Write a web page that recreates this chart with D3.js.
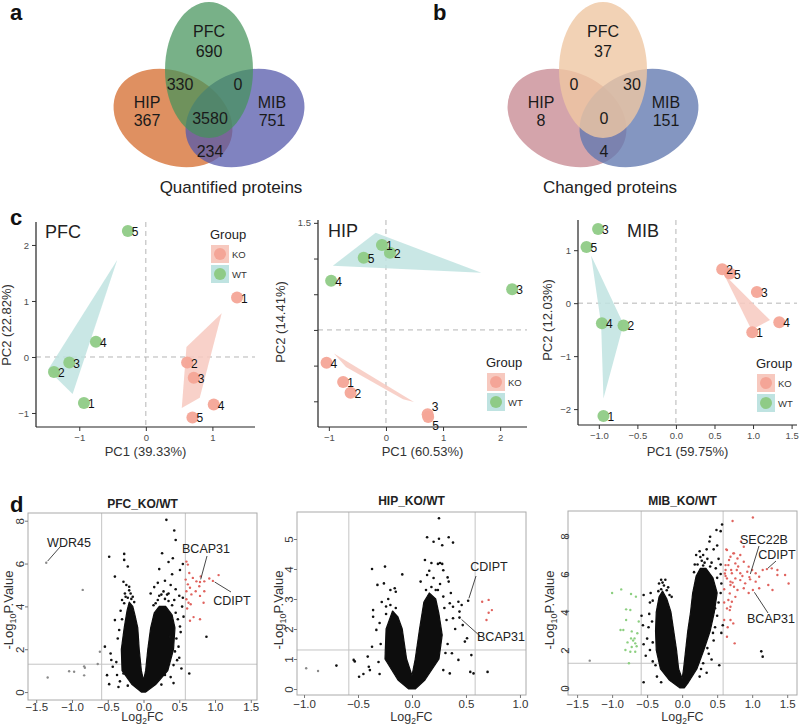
<!DOCTYPE html>
<html><head><meta charset="utf-8">
<script src="https://cdn.jsdelivr.net/npm/d3@7"></script>
<style>body{margin:0;background:#fff} svg{font-family:"Liberation Sans",Arial,sans-serif}</style>
</head><body><svg id="c" width="800" height="727"></svg>
<script>
// ---------------- DATA ----------------
const vennSets = ["PFC", "HIP", "MIB"];
// order: PFC only, HIP only, MIB only, PFC∩HIP, PFC∩MIB, HIP∩MIB, all three
const quantCounts = [690, 367, 751, 330, 0, 234, 3580];
const changedCounts = [37, 8, 151, 0, 30, 4, 0];
const vennTitles = ["Quantified proteins", "Changed proteins"];

const sampleIds = ["1", "2", "3", "4", "5"];
const groups = ["KO", "WT"];
// PCA coordinates [PC1, PC2] for samples 1..5
const pfcKO = [[1.37, 1.06], [0.62, -0.1], [0.72, -0.37], [1.02, -0.85], [0.7, -1.08]];
const pfcWT = [[-0.93, -0.82], [-1.38, -0.27], [-1.15, -0.1], [-0.75, 0.27], [-0.27, 2.25]];
const hipKO = [[-0.75, -0.73], [-0.62, -0.88], [0.73, -1.18], [-1.04, -0.46], [0.74, -1.22]];
const hipWT = [[-0.07, 1.19], [0.07, 1.08], [2.21, 0.57], [-0.96, 0.69], [-0.39, 1.01]];
const mibKO = [[0.99, -0.55], [0.6, 0.64], [1.05, 0.21], [1.34, -0.36], [0.7, 0.56]];
const mibWT = [[-0.94, -2.13], [-0.68, -0.42], [-1.01, 1.4], [-0.96, -0.38], [-1.16, 1.06]];
// group region polygons
const pfcKOArea = [[1.14, 0.78], [0.61, 0.18], [0.54, -0.91], [0.81, -0.73]];
const pfcWTArea = [[-0.43, 1.73], [-1.47, -0.23], [-1.1, -0.66]];
const hipKOArea = [[-0.91, -0.33], [0.49, -1.01], [0.3, -0.97], [-0.7, -0.52]];
const hipWTArea = [[-0.93, 0.9], [-0.18, 1.36], [1.67, 0.8]];
const mibKOArea = [[0.62, 0.55], [1.22, -0.32], [0.98, -0.5]];
const mibWTArea = [[-1.1, 0.9], [-0.68, -0.4], [-0.94, -1.8], [-0.97, -0.4]];
const pcaPct = [["39.33%", "22.82%"], ["60.53%", "14.41%"], ["59.75%", "12.03%"]];

// Volcano: dense core outlines [log2FC, -log10P]
const pfcCore = [[-0.03,0],[-0.16,0.35],[-0.3,1],[-0.31,2],[-0.27,3],[-0.23,3.8],[-0.2,4.2],[-0.15,4.0],[-0.12,3.6],[-0.08,3],[-0.06,2],[-0.03,1],[0,0.55],[0.03,1],[0.06,2],[0.1,3],[0.15,3.7],[0.22,4.0],[0.31,4.0],[0.4,3.6],[0.44,3],[0.42,2],[0.34,1],[0.17,0.35],[0.03,0]];
const hipCore = [[-0.03,0],[-0.13,0.3],[-0.25,1],[-0.24,2],[-0.18,2.6],[-0.13,2.4],[-0.09,2],[-0.05,1],[0,0.45],[0.03,1],[0.07,2],[0.11,2.9],[0.16,3.2],[0.22,3.0],[0.25,2.5],[0.28,1.8],[0.25,1],[0.12,0.3],[0.03,0]];
const mibCore = [[-0.03,0],[-0.18,0.4],[-0.31,1],[-0.37,2],[-0.38,3],[-0.37,4],[-0.33,4.8],[-0.28,5.1],[-0.22,4.7],[-0.16,4],[-0.12,3],[-0.08,2],[-0.05,1],[0,0.5],[0.02,1],[0.05,2],[0.08,3],[0.12,4],[0.15,5],[0.2,5.9],[0.26,6.3],[0.34,6.3],[0.44,5.8],[0.5,5],[0.46,4],[0.4,3],[0.31,2],[0.21,1],[0.09,0.3],[0.03,0]];
// Volcano: individual points
const pfcBlack = [[0.32,8.04],[0.43,7.54],[0.45,7.1],[-0.48,6.32],[-0.27,6.45],[-0.27,6.17],[-0.22,5.86],[0.26,6.48],[0.41,6.25],[0.35,6.07],[0.55,5.98],[0.22,5.74],[0.51,5.7],[-0.40,5.39],[-0.28,5.15],[-0.24,5.0],[-0.2,4.92],[0.2,5.1],[0.3,5.2],[0.38,5.0],[0.45,4.8],[0.5,4.5],[0.54,3.99],[0.56,3.52],[0.51,3.06],[0.49,2.12],[0.37,2.59],[0.52,2.8],[0.5,1.6],[0.42,1.26],[0.47,1.49],[0.42,0.42],[0.64,0.87],[0.88,2.58],[0.3,0.8],[-0.40,3.36],[-0.36,2.5],[-0.46,1.8],[-0.54,2.12],[-0.43,1.18],[-0.51,0.79],[-0.48,0.37],[-0.35,0.24],[-0.28,0.87],[-0.32,3.8],[-0.3,4.3],[-0.26,4.6],[0.1,4.6],[0.15,4.9],[0.48,3.4],[0.55,4.4],[-0.45,1.5],[0.44,1.9],[0.53,1.1],[0.4,5.5],[-0.38,1.4],[-0.33,0.5],[-0.34,2.9],[-0.3,3.4],[0.46,2.5],[0.45,3.7],[0.43,4.3],[0.35,4.6],[-0.22,0.3],[0.25,0.35],[0.38,0.7],[-0.37,0.8],[-0.22,4.4],[-0.18,4.6],[-0.25,4.45],[-0.2,4.75],[-0.15,4.45],[-0.27,4.15],[-0.13,4.2],[-0.17,4.35],[0.2,4.3],[0.25,4.55],[0.3,4.35],[0.35,4.25],[0.17,4.15],[0.4,4.05],[0.28,4.7],[0.22,4.5],[0.33,4.55],[0.14,4.05]];
const pfcGrey = [[-1.36,6.04],[-0.85,4.77],[-0.61,1.88],[-0.64,1.31],[-0.83,1.2],[-0.82,1.13],[-1.04,0.97],[-0.97,0.95],[-0.83,0.78],[-1.34,0.68]];
const pfcUp = [[0.6,6.09],[0.62,5.95],[0.64,5.56],[0.59,5.25],[0.62,5.03],[0.65,4.87],[0.6,4.71],[0.67,4.56],[0.6,4.33],[0.63,4.17],[0.69,5.33],[0.74,5.17],[0.8,5.4],[0.85,5.17],[0.78,4.94],[0.73,4.71],[0.85,4.71],[0.92,5.3],[0.97,5.19],[1.05,5.46],[0.84,4.17],[0.79,3.4],[0.65,3.33],[0.7,3.5],[0.79,4.49],[0.79,5.14],[0.61,3.9],[0.66,4.1]];
const pfcDown = [];
const hipBlack = [[0.25,5.69],[0.14,5.06],[0.2,4.91],[0.25,5.01],[0.34,5.06],[0.28,4.79],[0.38,4.88],[-0.37,4.0],[-0.25,4.08],[-0.09,3.82],[0.18,4.2],[0.24,4.17],[0.26,4.2],[0.28,4.17],[0.16,3.94],[0.29,3.96],[0.33,3.72],[-0.32,3.47],[-0.26,3.52],[-0.16,3.36],[-0.15,3.24],[-0.36,2.63],[-0.36,2.41],[-0.33,1.97],[-0.37,1.41],[-0.41,1.08],[-0.4,0.74],[-0.39,0.63],[-0.49,0.41],[-0.54,0.97],[-0.53,0.92],[-0.70,0.78],[0.14,3.8],[0.29,3.08],[0.34,3.58],[0.35,2.86],[0.38,2.74],[0.43,2.91],[0.46,2.8],[0.44,2.58],[0.38,2.36],[0.47,2.13],[0.51,1.69],[0.49,1.58],[0.55,1.13],[0.54,0.57],[0.57,0.52],[0.35,0.52],[0.29,0.63],[0.43,0.97],[0.37,1.19],[0.52,2.94],[0.44,2.38],[0.7,0.57],[0.08,3.58],[0.2,3.7],[-0.22,3.0],[-0.2,3.3],[-0.3,2.2],[0.33,1.5],[0.4,2.0],[0.36,3.2],[0.12,4.3],[0.22,3.3],[-0.45,0.5],[-0.3,0.5],[-0.28,2.9],[0.32,2.3],[0.31,1.2],[-0.29,1.5],[-0.31,0.9],[0.3,2.7],[0.26,3.5],[-0.24,2.5],[-0.2,2.8],[-0.15,2.7],[-0.24,2.75],[0.18,3.4],[0.13,3.3],[0.24,3.3]];
const hipGrey = [[-0.98,0.69],[-0.87,0.6]];
const hipUp = [[0.65,2.91],[0.71,2.97],[0.74,2.63],[0.71,2.54],[0.69,2.3]];
const hipDown = [];
const mibBlack = [[0.57,8.61],[0.49,8.32],[0.55,8.26],[0.4,7.96],[0.39,7.71],[0.45,7.3],[0.35,7.3],[0.3,7.0],[0.52,6.8],[0.55,6.5],[0.25,7.2],[0.5,7.5],[0.55,6.0],[0.56,5.5],[0.55,5.0],[0.52,4.5],[0.5,3.8],[0.47,3.2],[0.45,2.5],[0.38,1.8],[0.3,1.3],[0.35,0.8],[0.42,1.5],[0.25,0.6],[-0.3,5.7],[-0.24,5.7],[-0.33,5.5],[-0.45,5.0],[-0.46,4.5],[-0.55,4.9],[-0.47,3.9],[-0.48,3.2],[-0.5,2.6],[-0.46,2.0],[-0.42,1.4],[-0.52,1.7],[-0.36,0.6],[-0.3,0.3],[-0.55,0.3],[-0.2,5.3],[-0.15,4.8],[0.2,7.0],[0.18,6.5],[0.58,3.3],[0.56,2.9],[0.53,1.2],[-0.58,3.8],[-0.56,3.3],[-0.55,2.3],[1.13,1.93],[1.15,1.65],[0.5,5.8],[0.48,6.3],[0.42,6.6],[-0.42,4.6],[-0.43,3.5],[-0.42,2.4],[-0.38,1.2],[0.47,4.2],[0.44,2.9],[0.36,2.1],[0.27,1.0],[-0.3,5.2],[-0.26,5.4],[-0.34,5.1],[-0.22,5.15],[-0.28,5.55],[-0.18,4.9],[0.22,6.5],[0.28,6.7],[0.32,6.6],[0.36,6.8],[0.26,6.9],[0.4,6.4],[0.3,6.45],[0.17,6.1]];
const mibGrey = [[-1.32,1.44]];
const mibUp = [[0.72,8.79],[1.01,8.98],[0.63,7.3],[0.74,7.09],[0.88,7.44],[0.84,7.71],[0.67,6.74],[0.76,6.56],[0.62,6.47],[0.7,6.21],[0.61,6.03],[0.64,7.26],[0.69,6.91],[0.73,7.09],[0.79,6.82],[0.83,7.0],[0.88,6.65],[0.95,6.39],[0.66,6.47],[0.62,6.21],[0.71,6.04],[0.78,6.21],[0.83,6.04],[0.93,6.12],[1.0,6.21],[1.05,6.04],[1.15,6.21],[1.21,6.26],[1.28,6.3],[1.36,6.21],[0.64,5.77],[0.69,5.6],[0.76,5.77],[0.83,5.68],[0.9,5.51],[0.97,5.72],[1.05,5.6],[1.1,5.86],[0.69,5.42],[0.74,5.33],[0.79,5.16],[0.88,5.25],[1.01,5.16],[1.1,5.25],[1.23,5.42],[1.29,5.16],[1.36,5.95],[1.52,5.5],[1.47,5.95],[0.68,4.98],[0.66,4.63],[0.71,4.54],[0.69,4.28],[0.76,4.8],[0.64,4.19],[0.69,3.58],[0.73,3.4],[0.6,3.58],[0.64,2.7],[0.75,2.35],[0.68,4.1],[0.6,5.2],[0.62,5.9],[0.8,6.4],[0.86,5.9],[0.96,5.84],[0.72,5.55],[0.95,5.0],[0.6,4.5],[0.65,3.2]];
const mibDown = [[-1.0,5.0],[-0.87,5.19],[-0.73,4.95],[-0.66,4.81],[-0.74,4.11],[-0.8,4.14],[-0.8,3.58],[-0.84,3.05],[-0.72,2.98],[-0.68,2.61],[-0.73,2.61],[-0.67,2.35],[-0.72,2.16],[-0.81,2.0],[-0.74,1.91],[-0.67,1.91],[-0.76,1.3],[-0.88,3.05],[-0.64,2.88],[-0.7,2.5],[-0.62,3.5],[-0.65,2.2],[-0.78,2.4]];
// labelled proteins: [name, log2FC, -log10P]
const pfcGenes = [["WDR45", -1.36, 6.04], ["BCAP31", 0.79, 5.14], ["CDIPT", 0.97, 5.19]];
const hipGenes = [["CDIPT", 0.52, 2.94], ["BCAP31", 0.44, 2.38]];
const mibGenes = [["SEC22B", 0.96, 5.84], ["CDIPT", 1.21, 6.26], ["BCAP31", 1.01, 5.16]];
const fcCut = Math.log2(1.5), pCut = -Math.log10(0.05);

// ---------------- DRAW ----------------
const svg = d3.select("#c");
const FONT = '"Liberation Sans",Arial,sans-serif';
const defs = svg.append("defs");
defs.append("filter").attr("id", "soft").attr("x", "-10%").attr("y", "-10%").attr("width", "120%").attr("height", "120%")
  .append("feGaussianBlur").attr("stdDeviation", 0.7);

function panelLetter(t, x, y) {
  svg.append("text").attr("x", x).attr("y", y).attr("font-size", 22).attr("font-weight", "bold").attr("fill", "#111").text(t);
}
panelLetter("a", 10, 20); panelLetter("b", 433, 20); panelLetter("c", 10, 225); panelLetter("d", 10, 512);

// Venn
function venn(cx, counts, cols, op, title, titleX) {
  const g = svg.append("g");
  const ell = [
    {x: cx - 36, y: 118, rx: 62, ry: 46, r: 25, c: cols[1], o: op[1]},
    {x: cx + 36, y: 118, rx: 62, ry: 46, r: -25, c: cols[2], o: op[2]},
    {x: cx, y: 70, rx: 44, ry: 68, r: 0, c: cols[0], o: op[0]}
  ];
  g.selectAll("ellipse").data(ell).join("ellipse")
    .attr("cx", 0).attr("cy", 0).attr("rx", d => d.rx).attr("ry", d => d.ry)
    .attr("transform", d => `translate(${d.x},${d.y}) rotate(${d.r})`)
    .attr("fill", d => d.c).attr("fill-opacity", d => d.o);
  const t = (s, x, y) => g.append("text").attr("x", x).attr("y", y).attr("text-anchor", "middle")
    .attr("font-size", 16).attr("fill", "#1a1a1a").text(s);
  t(vennSets[0], cx, 37); t(counts[0], cx, 57);
  t(vennSets[1], cx - 62, 108); t(counts[1], cx - 62, 126);
  t(vennSets[2], cx + 63, 108); t(counts[2], cx + 63, 126);
  t(counts[3], cx - 29, 90); t(counts[4], cx + 29, 90);
  t(counts[5], cx + 1, 157); t(counts[6], cx + 1, 124);
  g.append("text").attr("x", titleX).attr("y", 193).attr("text-anchor", "middle").attr("font-size", 17).attr("fill", "#222").text(title);
}
venn(209, quantCounts, ["#44935a", "#d8783e", "#5559ab"], [0.72, 0.82, 0.75], vennTitles[0], 231);
venn(603, changedCounts, ["#efc7a3", "#cc949c", "#6279b0"], [0.8, 0.85, 0.78], vennTitles[1], 610);

// PCA
const koCol = "#F4A597", wtCol = "#8FCB86", koArea = "#F7C9BF", wtArea = "#BFE3E1";
function pca(o) {
  const g = svg.append("g");
  const x = d3.scaleLinear().domain(o.xd).range(o.xr);
  const y = d3.scaleLinear().domain(o.yd).range(o.yr);
  g.append("line").attr("x1", x(0)).attr("x2", x(0)).attr("y1", o.yr[1]).attr("y2", o.yr[0])
    .attr("stroke", "#b5b5b5").attr("stroke-dasharray", "5,4").attr("stroke-width", 1);
  g.append("line").attr("x1", o.xr[0]).attr("x2", o.xr[1]).attr("y1", y(0)).attr("y2", y(0))
    .attr("stroke", "#b5b5b5").attr("stroke-dasharray", "5,4").attr("stroke-width", 1);
  const line = d3.line().x(d => x(d[0])).y(d => y(d[1]));
  g.append("path").attr("d", line(o.wtA) + "Z").attr("fill", wtArea).attr("fill-opacity", 0.85);
  g.append("path").attr("d", line(o.koA) + "Z").attr("fill", koArea).attr("fill-opacity", 0.85);
  const ax = d3.axisBottom(x).tickValues(o.xt).tickSize(4).tickFormat(o.xf);
  const ay = d3.axisLeft(y).tickValues(o.yt).tickSize(4).tickFormat(o.yf);
  const gx = g.append("g").attr("transform", `translate(0,${o.yr[0]})`).call(ax);
  const gy = g.append("g").attr("transform", `translate(${o.xr[0]},0)`).call(ay);
  [gx, gy].forEach(a => {
    a.select(".domain").attr("stroke", "#222").attr("stroke-width", 1.2).attr("d",
      a === gx ? `M${o.xr[0]},0H${o.xr[1]}` : `M0,${o.yr[0]}V${o.yr[1]}`);
    a.selectAll(".tick line").attr("stroke", "#333");
    a.selectAll(".tick text").attr("font-size", 9.5).attr("fill", "#4d4d4d").attr("font-family", FONT);
  });
  const pts = [];
  o.ko.forEach((d, i) => pts.push({d, id: sampleIds[i], c: koCol}));
  o.wt.forEach((d, i) => pts.push({d, id: sampleIds[i], c: wtCol}));
  g.selectAll("circle.p").data(pts).join("circle").attr("class", "p")
    .attr("cx", p => x(p.d[0])).attr("cy", p => y(p.d[1])).attr("r", 6).attr("fill", p => p.c).attr("fill-opacity", 0.95);
  g.selectAll("text.l").data(pts).join("text").attr("class", "l")
    .attr("x", p => x(p.d[0]) + 4).attr("y", p => y(p.d[1]) + (o.lblDy && o.lblDy[p.c + p.id] || 0) + 5)
    .attr("font-size", 12).attr("fill", "#111").text(p => p.id);
  g.append("text").attr("x", o.title[1]).attr("y", o.title[2]).attr("font-size", 18).attr("fill", "#222").text(o.title[0]);
  g.append("text").attr("x", (o.xr[0] + o.xr[1]) / 2).attr("y", 456).attr("text-anchor", "middle")
    .attr("font-size", 13).attr("fill", "#333").text(`PC1 (${o.pct[0]})`);
  g.append("text").attr("transform", `translate(${o.ylx},${o.yly}) rotate(-90)`).attr("text-anchor", "middle")
    .attr("font-size", 13).attr("fill", "#333").text(`PC2 (${o.pct[1]})`);
  const L = o.leg;
  g.append("text").attr("x", L[0]).attr("y", L[1]).attr("font-size", 13).attr("fill", "#222").text("Group");
  groups.forEach((gr, i) => {
    const cy = L[1] + 15 + i * 20, kx = L[0] + 10;
    g.append("rect").attr("x", kx - 9).attr("y", cy - 9).attr("width", 18).attr("height", 18)
      .attr("fill", i === 0 ? koArea : wtArea);
    g.append("circle").attr("cx", kx).attr("cy", cy).attr("r", 6).attr("fill", i === 0 ? koCol : wtCol);
    g.append("text").attr("x", kx + 12).attr("y", cy + 4).attr("font-size", 9.5).attr("fill", "#333").text(gr);
  });
}
const fmtI = d => d3.format("d")(d).replace("-", "−");
const fmt1 = d => d3.format(".1f")(d).replace("-", "−");
pca({xd: [-1.65, 1.64], xr: [36, 255], yd: [-1.25, 2.41], yr: [427, 222], xt: [-1, 0, 1], yt: [-1, 0, 1, 2],
  xf: fmtI, yf: fmtI, ko: pfcKO, wt: pfcWT, koA: pfcKOArea, wtA: pfcWTArea, pct: pcaPct[0],
  title: ["PFC", 45, 238], ylx: 11, yly: 325, leg: [210, 239]});
pca({xd: [-1.19, 2.47], xr: [318, 527], yd: [-1.36, 1.54], yr: [427, 220], xt: [-1, 0, 1, 2], yt: [-1, -0.5, 0, 0.5, 1, 1.5],
  xf: fmtI, yf: d => d === 1.5 ? "1.5" : "", ko: hipKO, wt: hipWT, koA: hipKOArea, wtA: hipWTArea, pct: pcaPct[1],
  title: ["HIP", 328, 237], ylx: 285, yly: 322, leg: [486, 367],
  lblDy: {[koCol + "3"]: -8, [koCol + "5"]: 8}});
pca({xd: [-1.27, 1.57], xr: [578, 797], yd: [-2.3, 1.57], yr: [425, 220], xt: [-1, -0.5, 0, 0.5, 1, 1.5], yt: [-2, -1, 0, 1],
  xf: fmt1, yf: fmtI, ko: mibKO, wt: mibWT, koA: mibKOArea, wtA: mibWTArea, pct: pcaPct[2],
  title: ["MIB", 627, 237], ylx: 552, yly: 320, leg: [756, 368]});

// Volcano
function volcano(o) {
  const g = svg.append("g");
  const x = d3.scaleLinear().domain(o.xd).range(o.xr);
  const y = d3.scaleLinear().domain(o.yd).range(o.yr);
  const [L, R] = o.xr, [B, T] = o.yr;
  [-fcCut, fcCut].forEach(v => g.append("line").attr("x1", x(v)).attr("x2", x(v)).attr("y1", T).attr("y2", B)
    .attr("stroke", "#c4c4c4").attr("stroke-width", 1));
  g.append("line").attr("x1", L).attr("x2", R).attr("y1", y(pCut)).attr("y2", y(pCut)).attr("stroke", "#c4c4c4").attr("stroke-width", 1);
  const line = d3.line().x(d => x(d[0])).y(d => y(d[1])).curve(d3.curveLinearClosed);
  g.append("path").attr("d", line(o.core)).attr("fill", "#111").attr("stroke", "#111").attr("stroke-width", 1.2)
    .attr("stroke-linejoin", "round").attr("filter", "url(#soft)");
  const dots = (arr, col, r) => g.append("g").selectAll("circle").data(arr).join("circle")
    .attr("cx", d => x(d[0])).attr("cy", d => y(d[1])).attr("r", r).attr("fill", col);
  dots(o.black, "#111", 1.3);
  dots(o.grey, "#8a8a8a", 1.2);
  dots(o.up, "#e0635e", 1.2);
  dots(o.down, "#8ccf80", 1.2);
  g.append("rect").attr("x", L).attr("y", T).attr("width", R - L).attr("height", B - T)
    .attr("fill", "none").attr("stroke", "#aaa").attr("stroke-width", 1);
  const gx = g.append("g").attr("transform", `translate(0,${B})`).call(d3.axisBottom(x).tickValues(o.xt).tickSize(3).tickFormat(fmt1));
  const gy = g.append("g").attr("transform", `translate(${L},0)`).call(d3.axisLeft(y).tickValues(o.yt).tickSize(3).tickFormat(d3.format("d")));
  [gx, gy].forEach(a => {
    a.select(".domain").remove();
    a.selectAll(".tick line").attr("stroke", "#777");
    a.selectAll(".tick text").attr("font-size", 11.5).attr("fill", "#333").attr("font-family", FONT);
  });
  gx.selectAll(".tick text").attr("y", o.tickBase - B).attr("dy", 0);
  gy.selectAll(".tick text").attr("x", 0).attr("dy", 0).attr("text-anchor", "middle")
    .attr("transform", `translate(${o.tlx - L},0) rotate(-90)`);
  g.append("text").attr("x", (L + R) / 2).attr("y", o.ty).attr("text-anchor", "middle").attr("font-size", 12)
    .attr("font-weight", "bold").attr("fill", "#222").text(o.title);
  const xl = g.append("text").attr("x", (L + R) / 2).attr("y", 721).attr("text-anchor", "middle").attr("font-size", 12.5).attr("fill", "#333");
  xl.append("tspan").text("Log");
  xl.append("tspan").attr("font-size", 8.5).attr("dy", 2.5).text("2");
  xl.append("tspan").attr("dy", -2.5).text("FC");
  const yl = g.append("text").attr("transform", `translate(${o.ylx},610) rotate(-90)`).attr("text-anchor", "middle").attr("font-size", 13).attr("fill", "#333");
  yl.append("tspan").text("-Log");
  yl.append("tspan").attr("font-size", 9).attr("dy", 3).text("10");
  yl.append("tspan").attr("dy", -3).text("P.Value");
  o.genes.forEach((gn, i) => {
    const [tx, ty, lx, ly] = o.lab[i];
    const px = x(gn[1]), py = y(gn[2]);
    g.append("line").attr("x1", px + (lx - px) * 0.1).attr("y1", py + (ly - py) * 0.1).attr("x2", lx).attr("y2", ly)
      .attr("stroke", "#333").attr("stroke-width", 0.9);
    g.append("text").attr("x", tx).attr("y", ty).attr("text-anchor", "middle").attr("font-size", 12.5).attr("fill", "#222").text(gn[0]);
  });
}
volcano({xd: [-1.615, 1.587], xr: [28, 257], yd: [-0.37, 8.36], yr: [700, 513], xt: [-1.5, -1, -0.5, 0, 0.5, 1, 1.5], yt: [0, 2, 4, 6, 8],
  core: pfcCore, black: pfcBlack, grey: pfcGrey, up: pfcUp, down: pfcDown, title: "PFC_KO/WT", ty: 508, tlx: 24, ylx: 13, tickBase: 711,
  genes: pfcGenes, lab: [[69, 547, 60, 547], [206, 553, 207, 556], [232, 605, 231, 592]]});
volcano({xd: [-1.065, 1.056], xr: [297, 526], yd: [-0.2, 5.9], yr: [695, 512], xt: [-1, -0.5, 0, 0.5, 1], yt: [0, 1, 2, 3, 4, 5],
  core: hipCore, black: hipBlack, grey: hipGrey, up: hipUp, down: hipDown, title: "HIP_KO/WT", ty: 505, tlx: 293, ylx: 283, tickBase: 708,
  genes: hipGenes, lab: [[489, 571, 476, 576], [501, 641, 480, 636]]});
volcano({xd: [-1.63, 1.64], xr: [568, 797], yd: [-0.37, 9.32], yr: [695, 511], xt: [-1.5, -1, -0.5, 0, 0.5, 1, 1.5], yt: [0, 2, 4, 6, 8],
  core: mibCore, black: mibBlack, grey: mibGrey, up: mibUp, down: mibDown, title: "MIB_KO/WT", ty: 505, tlx: 569, ylx: 554, tickBase: 708,
  genes: mibGenes, lab: [[764, 544, 759, 546], [777, 559, 776, 561], [771, 623, 768, 613]]});
</script></body></html>
